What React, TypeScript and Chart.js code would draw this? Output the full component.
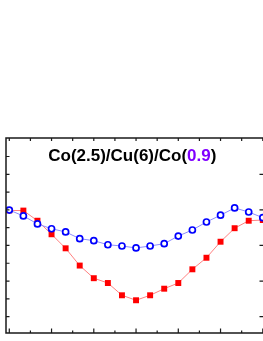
import React, { useEffect, useRef } from "react";
import { Chart, registerables } from "chart.js";

Chart.register(...registerables);

const angles = [0, 10, 20, 30, 40, 50, 60, 70, 80, 90, 100, 110, 120, 130, 140, 150, 160, 170, 180];
const blueValues = [5.99, 5.66, 5.21, 4.94, 4.76, 4.38, 4.27, 4.04, 3.97, 3.86, 3.97, 4.1, 4.53, 4.87, 5.32, 5.7, 6.11, 5.88, 5.56];
const redValues = [5.97, 5.96, 5.39, 4.63, 3.84, 2.87, 2.16, 1.89, 1.2, 0.92, 1.2, 1.57, 1.89, 2.66, 3.31, 4.21, 4.97, 5.39, 5.43];
const xMajorTicks = [0, 30, 60, 90, 120, 150, 180];
const xMinorTicks = [15, 45, 75, 105, 135, 165];
const yTicks = [0, 1, 2, 3, 4, 5, 6, 7, 8, 9];
const yRightTicks = [0, 2, 4, 6, 8];
const titleParts = [
  { text: "Co(2.5)/Cu(6)/Co(", color: "#000000" },
  { text: "0.9", color: "#8000ff" },
  { text: ")", color: "#000000" },
];

const framePlugin = {
  id: "frame",
  afterDatasetsDraw(chart: any) {
    const { ctx, chartArea, scales } = chart;
    const { left, right, top, bottom } = chartArea;
    const xs = scales.x;
    const ys = scales.y;
    ctx.save();
    ctx.strokeStyle = "#1a1a1a";
    ctx.lineWidth = 1.5;
    ctx.beginPath();
    ctx.moveTo(left, top);
    ctx.lineTo(right, top);
    ctx.lineTo(right, bottom);
    ctx.lineTo(left, bottom);
    ctx.closePath();
    ctx.stroke();
    ctx.lineWidth = 1.2;
    ctx.beginPath();
    xMajorTicks.forEach((v) => {
      const p = xs.getPixelForValue(v);
      ctx.moveTo(p, bottom);
      ctx.lineTo(p, bottom - 4.5);
      ctx.moveTo(p, top);
      ctx.lineTo(p, top + 3);
    });
    xMinorTicks.forEach((v) => {
      const p = xs.getPixelForValue(v);
      ctx.moveTo(p, bottom);
      ctx.lineTo(p, bottom - 2.5);
      ctx.moveTo(p, top);
      ctx.lineTo(p, top + 3);
    });
    yTicks.forEach((v) => {
      const p = ys.getPixelForValue(v);
      ctx.moveTo(left, p);
      ctx.lineTo(left + 3.5, p);
    });
    yRightTicks.forEach((v) => {
      const p = ys.getPixelForValue(v);
      ctx.moveTo(right, p);
      ctx.lineTo(right - 4.5, p);
    });
    ctx.stroke();
    ctx.restore();
  },
  afterDraw(chart: any) {
    const { ctx } = chart;
    ctx.save();
    ctx.font = "bold 17px 'Liberation Sans', Arial, sans-serif";
    ctx.textBaseline = "alphabetic";
    ctx.textAlign = "left";
    const widths = titleParts.map((p) => ctx.measureText(p.text).width);
    const total = widths.reduce((a, b) => a + b, 0);
    let x = 132.3 - total / 2;
    titleParts.forEach((p, i) => {
      ctx.fillStyle = p.color;
      ctx.fillText(p.text, x, 160.7);
      x += widths[i];
    });
    ctx.restore();
  },
};

export default function App() {
  const ref = useRef<HTMLCanvasElement>(null);
  useEffect(() => {
    if (!ref.current) return;
    const chart = new Chart(ref.current, {
      type: "line",
      data: {
        datasets: [
          {
            data: angles.map((a, i) => ({ x: a, y: blueValues[i] })),
            borderColor: "#8c8cff",
            borderWidth: 1,
            pointStyle: "circle",
            pointRadius: 3,
            pointBorderWidth: 1.7,
            pointBorderColor: "#0000ff",
            pointBackgroundColor: "#ffffff",
            tension: 0,
          },
          {
            data: angles.map((a, i) => ({ x: a, y: redValues[i] })),
            borderColor: "#ff8080",
            borderWidth: 1,
            pointStyle: "rect",
            pointRadius: 4.2,
            pointBorderWidth: 0,
            pointBorderColor: "#ff0000",
            pointBackgroundColor: "#ff0000",
            tension: 0,
          },
        ],
      },
      options: {
        responsive: false,
        animation: false,
        layout: { padding: { left: 6, top: 138, right: 6, bottom: 8 } },
        plugins: { legend: { display: false }, tooltip: { enabled: false }, title: { display: false } },
        scales: {
          x: { type: "linear", display: false, min: -2.34, max: 180.86 },
          y: { type: "linear", display: false, min: -0.92, max: 10.04 },
        },
      },
      plugins: [framePlugin],
    });
    return () => chart.destroy();
  }, []);
  return (
    <div style={{ position: "absolute", left: 0, top: 0, width: 263, height: 341, overflow: "hidden", background: "#fff" }}>
      <canvas ref={ref} width={270} height={341} style={{ display: "block", width: 270, height: 341 }} />
    </div>
  );
}
